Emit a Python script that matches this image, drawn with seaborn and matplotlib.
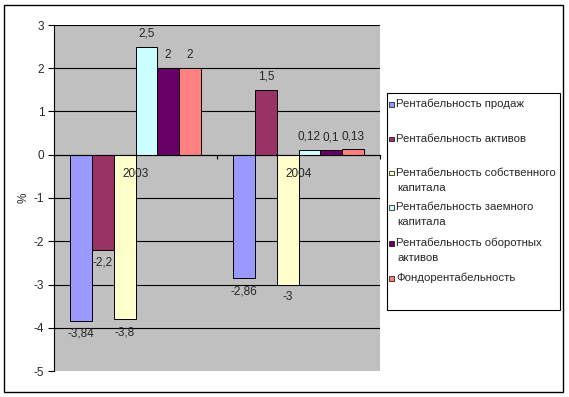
import matplotlib
matplotlib.use("Agg")
import matplotlib.pyplot as plt
from matplotlib.patches import Rectangle
import seaborn as sns
import pandas as pd

years = ["2003", "2004"]
indicators = [
    "Рентабельность продаж",
    "Рентабельность активов",
    "Рентабельность собственного\nкапитала",
    "Рентабельность заемного\nкапитала",
    "Рентабельность оборотных\nактивов",
    "Фондорентабельность",
]
values_2003 = [-3.84, -2.2, -3.8, 2.5, 2, 2]
values_2004 = [-2.86, 1.5, -3, 0.12, 0.1, 0.13]
y_ticks = [-5, -4, -3, -2, -1, 0, 1, 2, 3]
y_label = "%"

colors = ["#9999FF", "#993366", "#FFFFCC", "#CCFFFF", "#660066", "#FF8080"]

rows = []
for y, vals in zip(years, [values_2003, values_2004]):
    for ind, v in zip(indicators, vals):
        rows.append({"year": y, "indicator": ind, "value": v})
df = pd.DataFrame(rows)

sns.set_theme(style="white")
plt.rcParams["font.family"] = ["Liberation Sans", "DejaVu Sans"]

W, H = 569, 397
fig = plt.figure(figsize=(W / 100, H / 100), dpi=100)
fig.patch.set_facecolor("white")

def fx(px):
    return px / W

def fy(py):
    return 1 - py / H

ax = fig.add_axes([fx(54), fy(371), fx(380) - fx(54), fy(25) - fy(371)])
ax.set_facecolor("#C0C0C0")

sns.barplot(data=df, x="year", y="value", hue="indicator", order=years,
            hue_order=indicators, palette=colors, width=0.8, saturation=1,
            edgecolor="black", linewidth=0.7, ax=ax, legend=False, zorder=3)

ax.set_ylim(-5, 3)
ax.set_xlim(-0.5, 1.5)
ax.set_yticks(y_ticks)
ax.set_yticklabels([str(t) for t in y_ticks], fontsize=8.5)
ax.tick_params(axis="y", length=4, width=0.8, color="black", pad=3, left=True)
# horizontal gridlines (behind bars)
for t in y_ticks:
    if t != -5:
        ax.axhline(t, color="black", linewidth=0.8, zorder=1)
ax.grid(False)
ax.xaxis.set_zorder(6)
ax.yaxis.set_zorder(6)

ax.spines["top"].set_visible(False)
ax.spines["right"].set_visible(False)
ax.spines["left"].set_color("black")
ax.spines["left"].set_linewidth(0.8)
ax.spines["bottom"].set_position(("data", 0))
ax.spines["bottom"].set_color("black")
ax.spines["bottom"].set_linewidth(0.8)
ax.spines["bottom"].set_zorder(4)

ax.set_xticks([-0.5, 0.5, 1.5])
ax.set_xticklabels(["", "", ""])
ax.tick_params(axis="x", which="major", length=3, width=0.8, color="black", bottom=True, direction="out")
ax.set_xticks([0, 1], minor=True)
ax.set_xticklabels(years, minor=True, fontsize=8.5)
ax.tick_params(axis="x", which="minor", length=0, pad=9.5)
ax.set_xlabel("")
ax.set_ylabel(y_label, fontsize=8.5, labelpad=3)

def fmt(v):
    return ("%g" % v).replace(".", ",")

for cont in ax.containers:
    for bar in cont:
        h = bar.get_height()
        xc = bar.get_x() + bar.get_width() / 2
        off = 13 if h >= 0 else -13
        ax.annotate(fmt(h), (xc, h), xytext=(0, off), textcoords="offset pixels",
                    ha="center", va="center", fontsize=8.5, zorder=7,
                    annotation_clip=False)

# outer chart border
fig.add_artist(Rectangle((fx(4), fy(392)), fx(563) - fx(4), fy(5) - fy(392),
                         transform=fig.transFigure, fill=False,
                         edgecolor="black", linewidth=1.0))

# legend box
fig.add_artist(Rectangle((fx(387), fy(310)), fx(560) - fx(387), fy(93) - fy(310),
                         transform=fig.transFigure, fill=False,
                         edgecolor="black", linewidth=0.8))
entry_y = [104, 139, 173, 207, 243, 278]
for ind, col, yy in zip(indicators, colors, entry_y):
    fig.add_artist(Rectangle((fx(389), fy(yy + 2.5)), fx(5), 5 / H,
                             transform=fig.transFigure, facecolor=col,
                             edgecolor="black", linewidth=0.5))
    lines = ind.split("\n")
    fig.text(fx(396), fy(yy), lines[0], fontsize=8.2, va="center", ha="left")
    for k, ln in enumerate(lines[1:], start=1):
        fig.text(fx(397), fy(yy + 15 * k), ln, fontsize=8.2, va="center", ha="left")

fig.savefig("out.png", dpi=100)
